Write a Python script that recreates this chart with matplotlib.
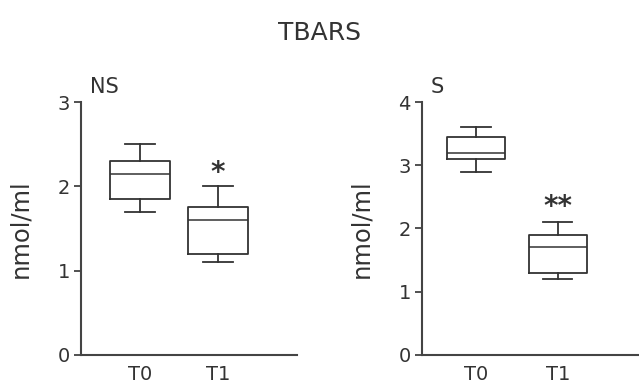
import matplotlib
matplotlib.use("Agg")
import matplotlib.pyplot as plt

groups = ["T0", "T1"]

# NS panel: whisker low, Q1, median, Q3, whisker high
ns_low = [1.7, 1.1]
ns_q1 = [1.85, 1.2]
ns_med = [2.15, 1.6]
ns_q3 = [2.3, 1.75]
ns_high = [2.5, 2.0]

# S panel
s_low = [2.9, 1.2]
s_q1 = [3.1, 1.3]
s_med = [3.2, 1.7]
s_q3 = [3.45, 1.9]
s_high = [3.6, 2.1]

ns_stars = ["", "*"]
s_stars = ["", "**"]
ns_star_y = [None, 2.16]
s_star_y = [None, 2.34]

ink = "#333333"
plt.rcParams["font.family"] = "DejaVu Sans"
plt.rcParams["text.color"] = ink


def make_stats(low, q1, med, q3, high):
    return [
        {"whislo": lo, "q1": a, "med": m, "q3": b, "whishi": hi, "fliers": [], "label": g}
        for lo, a, m, b, hi, g in zip(low, q1, med, q3, high, groups)
    ]


def draw_panel(ax, stats, positions, width, xlim, ymax, tag, stars, star_y):
    line = dict(color=ink, linewidth=1.3)
    ax.bxp(
        stats,
        positions=positions,
        widths=width,
        showfliers=False,
        boxprops=line,
        whiskerprops=line,
        capprops=line,
        medianprops=dict(color=ink, linewidth=1.1),
        manage_ticks=False,
    )
    ax.set_xlim(*xlim)
    ax.set_ylim(0, ymax)
    ax.set_yticks(range(0, ymax + 1))
    ax.set_xticks(positions)
    ax.set_xticklabels(groups, fontsize=14, color=ink)
    ax.tick_params(axis="x", length=0, pad=7)
    ax.tick_params(axis="y", length=5, width=1.2, color=ink, labelsize=14, labelcolor=ink, pad=3)
    for side in ("top", "right"):
        ax.spines[side].set_visible(False)
    for side in ("left", "bottom"):
        ax.spines[side].set_color("#444444")
        ax.spines[side].set_linewidth(1.5)
    ax.set_ylabel("nmol/ml", fontsize=17.5, color=ink, labelpad=18)
    ax.text(0.04, 1.02, tag, transform=ax.transAxes, fontsize=15, ha="left", va="bottom")
    for x, s, y in zip(positions, stars, star_y):
        if s:
            ax.text(x, y, s, fontsize=20, ha="center", va="center", color=ink,
                    fontweight="bold")


fig = plt.figure(figsize=(6.39, 3.85), dpi=100)
ax1 = fig.add_axes([0.1268, 0.078, 0.338, 0.657])
ax2 = fig.add_axes([0.6604, 0.078, 0.338, 0.657])

draw_panel(ax1, make_stats(ns_low, ns_q1, ns_med, ns_q3, ns_high),
           [1, 2], 0.76, (0.244, 3.01), 3, "NS", ns_stars, ns_star_y)
draw_panel(ax2, make_stats(s_low, s_q1, s_med, s_q3, s_high),
           [1, 2], 0.71, (0.34, 2.98), 4, "S", s_stars, s_star_y)

fig.text(0.5, 0.915, "TBARS", ha="center", va="center", fontsize=18, color=ink)

fig.savefig("out.png", dpi=100)
